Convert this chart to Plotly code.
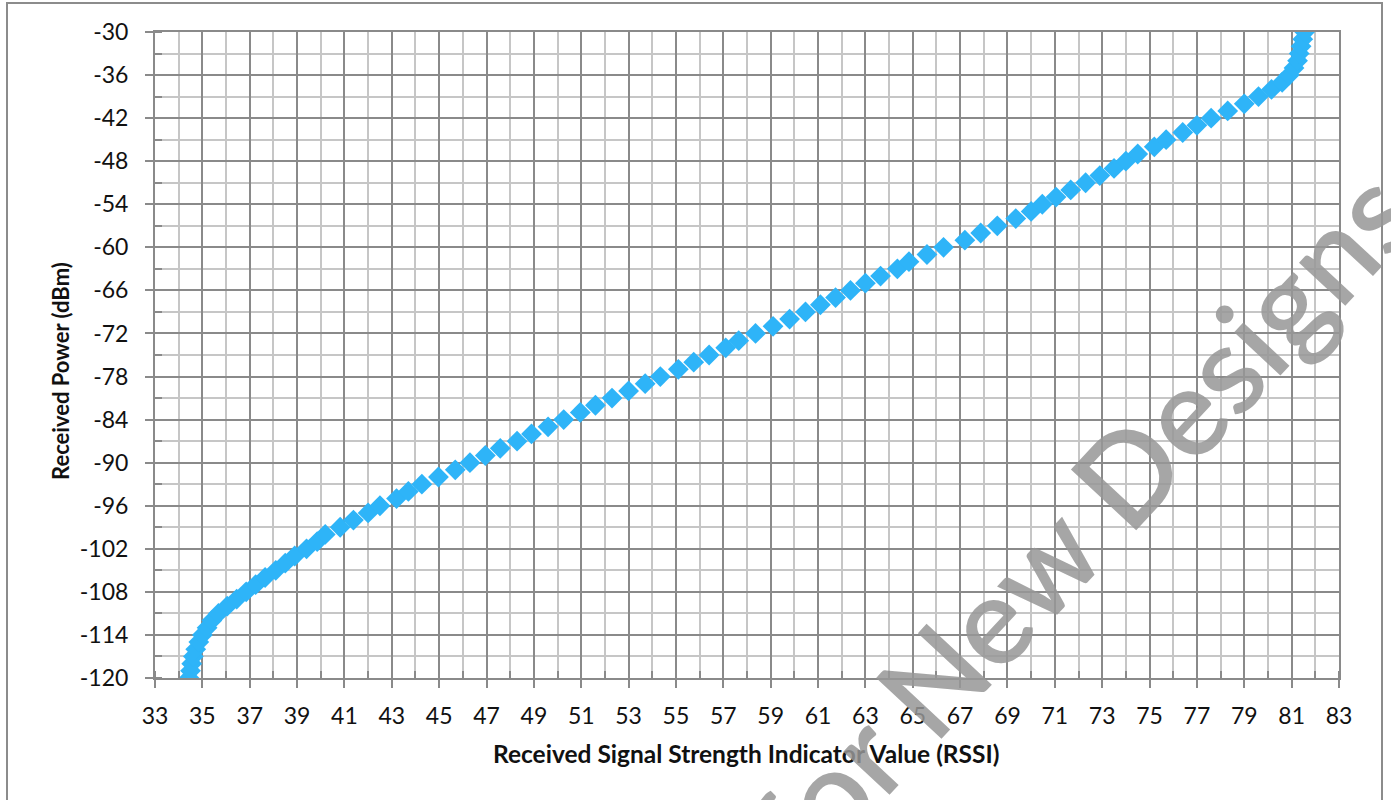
import plotly.graph_objects as go

# Received power (dBm) and the matching RSSI reading
power_dbm = [
    -120, -119, -118, -117, -116, -115, -114, -113, -112, -111,
    -110, -109, -108, -107, -106, -105, -104, -103, -102, -101,
    -100, -99, -98, -97, -96, -95, -94, -93, -92, -91,
    -90, -89, -88, -87, -86, -85, -84, -83, -82, -81,
    -80, -79, -78, -77, -76, -75, -74, -73, -72, -71,
    -70, -69, -68, -67, -66, -65, -64, -63, -62, -61,
    -60, -59, -58, -57, -56, -55, -54, -53, -52, -51,
    -50, -49, -48, -47, -46, -45, -44, -43, -42, -41,
    -40, -39, -38, -37, -36, -35, -34, -33, -32, -31,
    -30,
]
rssi = [
    34.44, 34.50, 34.55, 34.62, 34.72, 34.85, 35.00, 35.20, 35.40, 35.68,
    36.05, 36.45, 36.85, 37.25, 37.65, 38.10, 38.50, 38.90, 39.40, 39.85,
    40.19, 40.82, 41.38, 42.00, 42.50, 43.20, 43.70, 44.27, 44.97, 45.68,
    46.30, 46.95, 47.58, 48.29, 48.90, 49.60, 50.26, 50.96, 51.60, 52.30,
    53.00, 53.70, 54.34, 55.10, 55.75, 56.40, 57.10, 57.65, 58.36, 59.10,
    59.80, 60.47, 61.10, 61.74, 62.37, 63.00, 63.64, 64.35, 64.84, 65.60,
    66.30, 67.20, 67.87, 68.57, 69.35, 70.00, 70.47, 71.05, 71.67, 72.30,
    72.90, 73.50, 74.00, 74.50, 75.20, 75.70, 76.40, 77.00, 77.60, 78.30,
    79.00, 79.60, 80.15, 80.60, 80.90, 81.10, 81.25, 81.32, 81.40, 81.47,
    81.55,
]

# axis ticks
x_ticks = [33, 35, 37, 39, 41, 43, 45, 47, 49, 51, 53, 55, 57,
           59, 61, 63, 65, 67, 69, 71, 73, 75, 77, 79, 81, 83]
y_ticks = [-120, -114, -108, -102, -96, -90, -84, -78, -72, -66,
           -60, -54, -48, -42, -36, -30]
y_tick_labels = ["-120", "-114", "-108", "-102", "-96", "-90", "-84", "-78",
                 "-72", "-66", "-60", "-54", "-48", "-42", "-36", "-30"]

x_title = "Received Signal Strength Indicator Value (RSSI)"
y_title = "Received Power (dBm)"
watermark = "for New Designs"

FONT = "Lato, 'Open Sans', sans-serif"
MAJOR = "#8a8a8a"
MINOR = "#c6c6c6"

fig = go.Figure()
fig.add_trace(go.Scatter(
    x=rssi, y=power_dbm, mode="markers",
    marker=dict(symbol="diamond", size=16, color="#2eb4f8", line=dict(width=0)),
    showlegend=False, hoverinfo="x+y",
))

axis_common = dict(
    showgrid=True, gridcolor=MAJOR, gridwidth=2,
    showline=True, linecolor=MAJOR, linewidth=2, mirror=True,
    ticks="outside", ticklen=8, tickcolor=MAJOR, tickwidth=2,
    tickfont=dict(family=FONT, size=23, color="#111111"),
    zeroline=False,
)

fig.update_xaxes(
    range=[33, 83], tickmode="array", tickvals=x_ticks,
    minor=dict(dtick=1, tick0=33, showgrid=True, gridcolor=MINOR, gridwidth=1.5,
               ticks="inside", ticklen=7, tickcolor=MAJOR, tickwidth=2),
    ticklabelstandoff=8,
    **axis_common,
)
fig.update_yaxes(
    range=[-120, -30], tickmode="array", tickvals=y_ticks, ticktext=y_tick_labels,
    minor=dict(dtick=3, tick0=-120, showgrid=True, gridcolor=MINOR, gridwidth=1.5,
               ticks="inside", ticklen=7, tickcolor=MAJOR, tickwidth=2),
    ticklabelstandoff=12,
    **axis_common,
)

L, R, T, B = 155, 52, 32, 122
W, H = 1391, 800
pw, ph = W - L - R, H - T - B


def px_x(p):
    return (p - L) / pw


def px_y(p):
    return (H - B - p) / ph


# chart frame
fig.add_shape(type="rect", xref="paper", yref="paper",
              x0=px_x(7), x1=px_x(1382), y0=px_y(812), y1=px_y(3),
              line=dict(color="#8c8c8c", width=2), layer="below")

fig.add_annotation(text=f"<b>{x_title}</b>", xref="paper", yref="paper",
                   x=px_x(746), y=px_y(753), showarrow=False,
                   xanchor="center", yanchor="middle",
                   font=dict(family=FONT, size=24.5, color="#111111"))
fig.add_annotation(text=f"<b>{y_title}</b>", xref="paper", yref="paper",
                   x=px_x(60), y=px_y(371), showarrow=False, textangle=-90,
                   xanchor="center", yanchor="middle",
                   font=dict(family=FONT, size=22, color="#111111"))

fig.add_annotation(text=watermark, xref="paper", yref="paper",
                   x=px_x(1080), y=px_y(520), showarrow=False, textangle=-47,
                   xanchor="center", yanchor="middle",
                   font=dict(family=FONT, size=124, weight=600,
                             color="rgba(150,150,150,0.85)"))

fig.update_layout(
    width=W, height=H,
    margin=dict(l=L, r=R, t=T, b=B),
    paper_bgcolor="white", plot_bgcolor="white",
)

fig.write_html("out.html")
